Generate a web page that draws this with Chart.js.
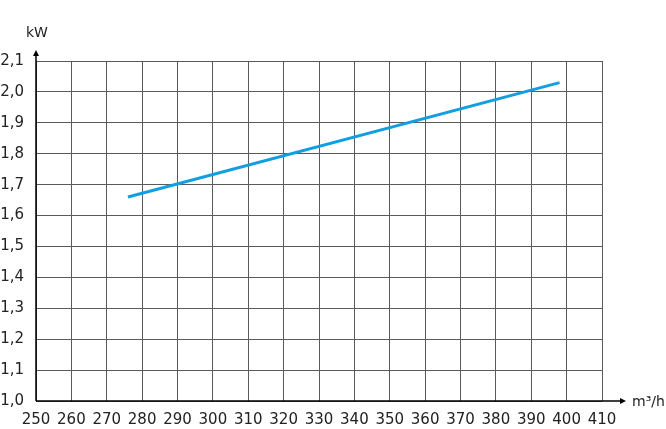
<!DOCTYPE html>
<html>
<head>
<meta charset="utf-8">
<script src="https://cdn.jsdelivr.net/npm/chart.js@4/dist/chart.umd.min.js"></script>
<style>
  html, body { margin: 0; padding: 0; background: #fff; }
  #wrap { width: 666px; height: 429px; }
</style>
</head>
<body>
<div id="wrap"><canvas id="kurve"></canvas></div>
<script>
// Luftmenge (m³/h) und Leistung (kW)
const luftmenge = [276, 398]
const leistung = [1.66, 2.03]
const xTicks = [250, 260, 270, 280, 290, 300, 310, 320, 330, 340, 350, 360, 370, 380, 390, 400, 410]
const yTicks = [1.0, 1.1, 1.2, 1.3, 1.4, 1.5, 1.6, 1.7, 1.8, 1.9, 2.0, 2.1]

const punkte = luftmenge.map((x, i) => ({ x: x, y: leistung[i] }))
const schrift = { family: 'DejaVu Sans', size: 15 }

// Achsen mit Pfeilen und Einheiten
const achsenPfeile = {
    id: 'achsenPfeile',
    afterDraw(chart) {
        const ctx = chart.ctx
        const a = chart.chartArea
        ctx.save()
        ctx.strokeStyle = '#000'
        ctx.fillStyle = '#000'
        ctx.lineWidth = 1.5
        ctx.beginPath()
        ctx.moveTo(a.left, a.bottom)
        ctx.lineTo(a.left, 53)
        ctx.moveTo(a.left, a.bottom)
        ctx.lineTo(622, a.bottom)
        ctx.stroke()
        // Pfeilspitzen
        ctx.beginPath()
        ctx.moveTo(a.left, 50)
        ctx.lineTo(a.left - 3, 56)
        ctx.lineTo(a.left + 3, 56)
        ctx.closePath()
        ctx.fill()
        ctx.beginPath()
        ctx.moveTo(626, a.bottom)
        ctx.lineTo(620, a.bottom - 3)
        ctx.lineTo(620, a.bottom + 3)
        ctx.closePath()
        ctx.fill()
        ctx.font = '14px "DejaVu Sans"'
        ctx.fillStyle = '#222'
        ctx.textBaseline = 'middle'
        ctx.textAlign = 'left'
        ctx.fillText('kW', 26, 33)
        ctx.fillText('m³/h', 632, 402)
        ctx.restore()
    }
}

new Chart(
    document.getElementById('kurve'),
    {
        type: 'line',
        data: {
            datasets: [
                {
                    data: punkte,
                    borderColor: '#119fe0',
                    borderWidth: 3,
                    pointRadius: 0,
                    fill: false,
                    tension: 0
                }
            ]
        },
        options: {
            responsive: true,
            maintainAspectRatio: false,
            animation: false,
            layout: {
                padding: { top: 61, right: 64, left: 0, bottom: 0 }
            },
            scales: {
                x: {
                    type: 'linear',
                    min: 250,
                    max: 410,
                    afterBuildTicks: axis => { axis.ticks = xTicks.map(v => ({ value: v })) },
                    afterFit: axis => { axis.height = 28 },
                    border: { display: false },
                    grid: { color: '#5a5a5a', lineWidth: 1, drawTicks: false },
                    ticks: {
                        color: '#222',
                        font: schrift,
                        padding: 10,
                        maxRotation: 0,
                        autoSkip: false
                    }
                },
                y: {
                    min: 1.0,
                    max: 2.1,
                    afterBuildTicks: axis => { axis.ticks = yTicks.map(v => ({ value: v })) },
                    afterFit: axis => { axis.width = 36 },
                    border: { display: false },
                    grid: { color: '#5a5a5a', lineWidth: 1, drawTicks: false },
                    ticks: {
                        color: '#222',
                        font: schrift,
                        padding: 12,
                        autoSkip: false,
                        callback: v => v.toFixed(1).replace('.', ',')
                    }
                }
            },
            plugins: {
                legend: { display: false },
                tooltip: { enabled: false }
            }
        },
        plugins: [achsenPfeile]
    }
);
</script>
</body>
</html>
